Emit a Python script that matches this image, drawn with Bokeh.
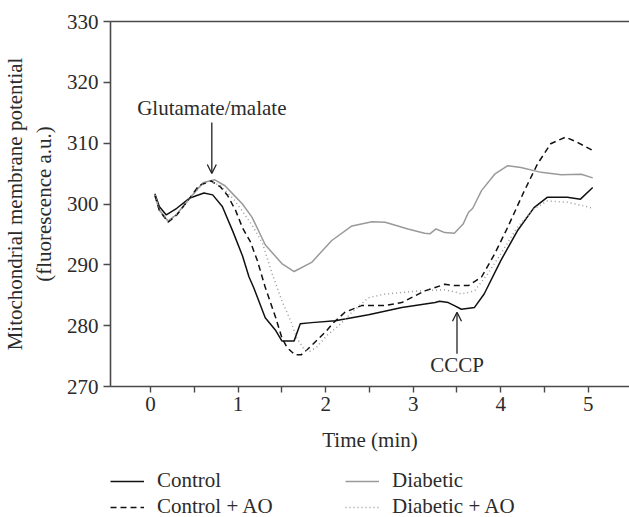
from bokeh.plotting import figure
from bokeh.layouts import column
from bokeh.models import (Range1d, FixedTicker, LinearAxis, Legend, LegendItem,
                          Label, Arrow, OpenHead)
from bokeh.embed import file_html
from bokeh.resources import INLINE

# ---- data ----
ctrl_x = [0.05, 0.1, 0.18, 0.3, 0.45, 0.61, 0.71, 0.82, 0.94, 1.05, 1.125, 1.18, 1.31, 1.43, 1.5,
          1.64, 1.71, 1.84, 2.11, 2.49, 2.87, 3.25, 3.30, 3.40, 3.47, 3.55, 3.70, 3.81, 4.0,
          4.19, 4.38, 4.53, 4.76, 4.91, 5.05]
ctrl_y = [301.7, 299.6, 298.2, 299.3, 301.0, 301.8, 301.5, 299.6, 295.5, 291.5, 288.0, 286.2, 281.3, 279.2, 277.5,
          277.5, 280.3, 280.5, 280.8, 281.8, 283.0, 283.8, 284.0, 283.8, 283.3, 282.7, 283.0, 285.2, 290.7,
          295.6, 299.4, 301.1, 301.1, 300.8, 302.7]

ctao_x = [0.05, 0.1, 0.2, 0.3, 0.45, 0.55, 0.69, 0.8, 0.88, 0.97, 1.05, 1.14, 1.22, 1.31, 1.43, 1.5,
          1.56, 1.65, 1.72, 1.8, 1.9, 2.0, 2.09, 2.22, 2.41, 2.68, 2.87, 3.13, 3.36, 3.47, 3.63,
          3.78, 3.93, 4.08, 4.27, 4.42, 4.57, 4.74, 4.88, 5.05]
ctao_y = [301.4, 299.0, 297.0, 298.2, 301.0, 303.0, 303.8, 302.8, 301.4, 299.0, 296.1, 293.8, 290.7, 286.3, 281.3, 278.0,
          276.4, 275.2, 275.2, 276.2, 277.6, 279.0, 280.5, 282.2, 283.3, 283.3, 283.8, 285.7, 286.8, 286.6, 286.6,
          288.0, 291.8, 296.2, 302.2, 306.6, 309.9, 311.0, 310.1, 308.8]

diab_x = [0.05, 0.1, 0.2, 0.3, 0.45, 0.6, 0.73, 0.85, 0.95, 1.05, 1.16, 1.31, 1.5, 1.64, 1.84, 2.07,
          2.3, 2.53, 2.68, 2.94, 3.13, 3.19, 3.26, 3.36, 3.47, 3.57, 3.63, 3.68, 3.78, 3.93,
          4.08, 4.23, 4.46, 4.69, 4.92, 5.05]
diab_y = [301.5, 299.0, 297.2, 298.3, 301.0, 303.5, 304.0, 303.0, 301.5, 300.0, 297.8, 293.3, 290.2, 288.9, 290.4, 294.0,
          296.4, 297.1, 297.0, 295.9, 295.2, 295.1, 295.9, 295.3, 295.2, 296.7, 298.6, 299.3, 302.2, 304.9,
          306.3, 306.0, 305.2, 304.8, 304.9, 304.3]

diao_x = [0.05, 0.1, 0.2, 0.3, 0.45, 0.6, 0.67, 0.8, 0.95, 1.05, 1.16, 1.28, 1.39, 1.5, 1.6, 1.67,
          1.75, 1.82, 1.9, 1.96, 2.03, 2.15, 2.3, 2.49, 2.68, 3.06, 3.36, 3.49, 3.55, 3.7,
          3.85, 4.0, 4.19, 4.38, 4.53, 4.76, 5.03]
diao_y = [301.5, 299.0, 297.2, 298.3, 301.0, 303.4, 303.8, 303.0, 300.8, 298.8, 296.5, 293.5, 288.5, 284.1, 280.8, 278.0,
          276.2, 275.8, 276.5, 277.5, 278.6, 280.0, 282.2, 284.6, 285.2, 285.7, 285.9, 285.5, 285.2, 285.7,
          288.5, 291.8, 296.2, 299.2, 300.5, 300.3, 299.4]

series_labels = ["Control", "Diabetic", "Control + AO", "Diabetic + AO"]

x_major = [0, 1, 2, 3, 4, 5]
x_minor = [0.5, 1.5, 2.5, 3.5, 4.5]
y_ticks = [270, 280, 290, 300, 310, 320, 330]

glu_x, glu_text_y, glu_arrow_top, glu_arrow_tip = 0.70, 315.7, 313.4, 305.0
cccp_x, cccp_text_y, cccp_arrow_bot, cccp_arrow_tip = 3.50, 273.6, 275.4, 282.2

FONT = "Liberation Serif"
TXT = "#2b2b2b"
AX = "#4a4a4a"
FS = "21px"

styles = [dict(line_color="#111111", line_width=1.5),
          dict(line_color="#9a9a9a", line_width=1.5),
          dict(line_color="#111111", line_width=1.5, line_dash="6 4"),
          dict(line_color="#9a9a9a", line_width=1.5, line_dash="1 3")]
all_x = [ctrl_x, diab_x, ctao_x, diao_x]
all_y = [ctrl_y, diab_y, ctao_y, diao_y]

p = figure(width=629, height=468, output_backend="svg", toolbar_location=None,
           x_range=Range1d(-0.457, 5.47), y_range=Range1d(270, 330),
           x_axis_location=None, y_axis_location=None,
           min_border_left=108, min_border_top=21, min_border_right=0, min_border_bottom=82)
p.grid.visible = False
p.outline_line_color = None
p.background_fill_color = "white"

xa = LinearAxis(ticker=FixedTicker(ticks=x_major, minor_ticks=x_minor), axis_label="Time (min)")
ya = LinearAxis(ticker=FixedTicker(ticks=y_ticks),
                axis_label="Mitochondrial membrane potential\n(fluorescence a.u.)")
for ax in (xa, ya):
    ax.axis_line_color = AX
    ax.axis_line_width = 1.6
    ax.major_tick_line_color = AX
    ax.major_tick_line_width = 1.4
    ax.minor_tick_line_color = AX
    ax.minor_tick_line_width = 1.4
    ax.major_tick_in = 0
    ax.minor_tick_in = 0
    ax.major_label_text_font = FONT
    ax.major_label_text_font_size = FS
    ax.major_label_text_color = TXT
    ax.axis_label_text_font = FONT
    ax.axis_label_text_font_size = FS
    ax.axis_label_text_font_style = "normal"
    ax.axis_label_text_color = TXT
xa.major_tick_out = 6
xa.minor_tick_out = 6
xa.major_label_standoff = 4
xa.axis_label_standoff = 14
ya.major_tick_out = 7
ya.minor_tick_line_color = None
ya.major_label_standoff = 5
ya.axis_label_standoff = 8
p.add_layout(xa, "below")
p.add_layout(ya, "left")

top = LinearAxis(major_tick_line_color=None, minor_tick_line_color=None,
                 major_label_text_font_size="0px", axis_line_color=AX, axis_line_width=1.6)
top.ticker = FixedTicker(ticks=[])
p.add_layout(top, "above")

for xs, ys, st in zip(all_x, all_y, styles):
    p.line(xs, ys, **st)

p.add_layout(Label(x=glu_x, y=glu_text_y, text="Glutamate/malate", text_align="center",
                   text_baseline="middle", text_font=FONT, text_font_size=FS, text_color=TXT))
p.add_layout(Arrow(end=OpenHead(size=9, line_width=1.3, line_color="#222222"),
                   x_start=glu_x, y_start=glu_arrow_top, x_end=glu_x, y_end=glu_arrow_tip,
                   line_width=1.3, line_color="#222222"))
p.add_layout(Label(x=cccp_x, y=cccp_text_y, text="CCCP", text_align="center",
                   text_baseline="middle", text_font=FONT, text_font_size=FS, text_color=TXT))
p.add_layout(Arrow(end=OpenHead(size=9, line_width=1.3, line_color="#222222"),
                   x_start=cccp_x, y_start=cccp_arrow_bot, x_end=cccp_x, y_end=cccp_arrow_tip,
                   line_width=1.3, line_color="#222222"))

# ---- legend strip below the chart (series drawn out of its view, only the key shows) ----
lg = figure(width=629, height=49, output_backend="svg", toolbar_location=None,
            x_range=Range1d(0, 1), y_range=Range1d(0, 1),
            x_axis_location=None, y_axis_location=None,
            min_border_left=0, min_border_right=0, min_border_top=0, min_border_bottom=0)
lg.grid.visible = False
lg.outline_line_color = None
items = []
for lab, xs, ys, st in zip(series_labels, all_x, all_y, styles):
    r = lg.line(xs, ys, **st)
    items.append(LegendItem(label=lab, renderers=[r]))

legend = Legend(items=items, orientation="horizontal", ncols=2, location=(0, -2),
                label_text_font=FONT, label_text_font_size=FS, label_text_color=TXT,
                glyph_width=34, glyph_height=20, label_height=20, label_standoff=13,
                label_width=187, spacing=1, padding=0, margin=0,
                border_line_color=None, background_fill_alpha=0)
lg.add_layout(legend, "center")

layout = column(p, lg, spacing=0)
open("out.html", "w").write(file_html(layout, INLINE))
